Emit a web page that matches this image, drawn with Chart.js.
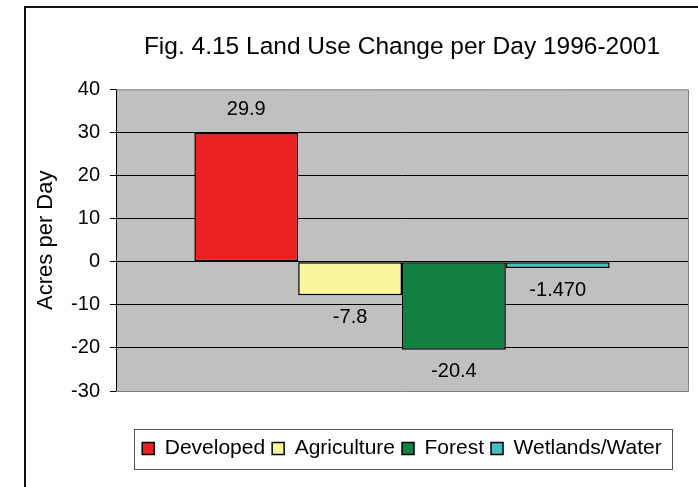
<!DOCTYPE html>
<html>
<head>
<meta charset="utf-8">
<title>Land Use Change per Day</title>
<script src="https://cdn.jsdelivr.net/npm/chart.js@4"></script>
<style>
  html, body { margin: 0; padding: 0; background: #fff; }
  #wrap { width: 698px; height: 487px; }
</style>
</head>
<body>
<div id="wrap"><canvas id="myChart" width="698" height="487"></canvas></div>
<script>
// land use categories and their change (acres per day)
var landUses = ['Developed', 'Agriculture', 'Forest', 'Wetlands/Water'];
var acresPerDay = [29.9, -7.8, -20.4, -1.470];
var labelDigits = [1, 1, 1, 3];
var barColors = ['#ED2024', '#FBF59B', '#128040', '#45BEC6'];
var yTicks = [40, 30, 20, 10, 0, -10, -20, -30];

var FONT = "'Liberation Sans', Arial, sans-serif";
Chart.defaults.font.family = FONT;
Chart.defaults.color = '#000';

// one dataset per land use so each gets its own legend entry
var datasets = [];
for (var i = 0; i < landUses.length; i++) {
    datasets.push({
        label: landUses[i],
        data: [acresPerDay[i]],
        backgroundColor: barColors[i],
        borderColor: '#000',
        borderWidth: 1.5,
        borderSkipped: false,
        categoryPercentage: 0.726,
        barPercentage: 1.0
    });
}

// white page, outer frame and grey plot area
var backdrop = {
    id: 'backdrop',
    beforeDraw: function(chart) {
        var ctx = chart.ctx, a = chart.chartArea;
        ctx.save();
        ctx.fillStyle = '#fff';
        ctx.fillRect(0, 0, chart.width, chart.height);
        ctx.fillStyle = '#111';
        ctx.fillRect(24, 6, 2, chart.height);
        ctx.fillRect(24, 6, chart.width, 2);
        ctx.fillStyle = '#C0C0C0';
        ctx.fillRect(a.left, a.top, a.right - a.left, a.bottom - a.top);
        ctx.restore();
    },
    afterDraw: function(chart) {
        var ctx = chart.ctx, a = chart.chartArea;
        ctx.save();
        ctx.strokeStyle = '#808080';
        ctx.lineWidth = 1;
        ctx.beginPath();
        ctx.moveTo(a.left, a.top + 0.5);
        ctx.lineTo(a.right + 0.5, a.top + 0.5);
        ctx.lineTo(a.right + 0.5, a.bottom + 0.5);
        ctx.lineTo(a.left, a.bottom + 0.5);
        ctx.stroke();

        // box round the legend
        var hb = chart.legend.legendHitBoxes;
        if (hb && hb.length) {
            var last = hb[hb.length - 1];
            var mid = hb[0].top + hb[0].height / 2;
            ctx.strokeStyle = '#555';
            ctx.strokeRect(Math.round(hb[0].left - 8) + 0.5, Math.round(mid - 20) + 0.5,
                Math.round(last.left + last.width - hb[0].left + 18), 40);
        }
        ctx.restore();
    }
};

// value labels above / below each bar
var valueLabels = {
    id: 'valueLabels',
    afterDatasetsDraw: function(chart) {
        var ctx = chart.ctx;
        ctx.save();
        ctx.font = '20px ' + FONT;
        ctx.fillStyle = '#000';
        ctx.textAlign = 'center';
        ctx.textBaseline = 'middle';
        chart.data.datasets.forEach(function(ds, i) {
            var bar = chart.getDatasetMeta(i).data[0];
            var v = ds.data[0];
            var y = v >= 0 ? bar.y - 23 : bar.y + 22;
            ctx.fillText(v.toFixed(labelDigits[i]), bar.x, y);
        });
        ctx.restore();
    }
};

var ctx = document.getElementById('myChart');
var myChart = new Chart(ctx, {
    type: 'bar',
    data: {
        labels: [''],
        datasets: datasets
    },
    options: {
        responsive: false,
        animation: false,
        layout: {
            padding: { left: 0, right: 10, top: 0, bottom: 18 }
        },
        plugins: {
            title: {
                display: true,
                fullSize: false,
                text: 'Fig. 4.15 Land Use Change per Day 1996-2001',
                color: '#000',
                font: { size: 24.5, weight: 'normal' },
                padding: { top: 33, bottom: 27 }
            },
            legend: {
                position: 'bottom',
                fullSize: false,
                labels: {
                    boxWidth: 12,
                    boxHeight: 12,
                    padding: 7,
                    color: '#000',
                    font: { size: 21 }
                }
            },
            tooltip: { enabled: false }
        },
        scales: {
            x: {
                display: true,
                grid: { display: false },
                border: { display: false },
                ticks: { display: false },
                afterFit: function(scale) { scale.height = 40; }
            },
            y: {
                min: -30,
                max: 40,
                z: 1,
                afterFit: function(scale) { scale.width = 116; },
                afterBuildTicks: function(scale) {
                    scale.ticks = yTicks.map(function(v) { return { value: v }; });
                },
                ticks: {
                    padding: 10,
                    color: '#000',
                    font: { size: 20 }
                },
                grid: {
                    color: function(c) {
                        return (c.tick && (c.tick.value === 40 || c.tick.value === -30)) ? 'rgba(0,0,0,0)' : '#000';
                    },
                    tickColor: '#000',
                    tickLength: 6,
                    lineWidth: 1
                },
                border: { color: '#000', width: 1 },
                title: {
                    display: true,
                    text: 'Acres per Day',
                    color: '#000',
                    font: { size: 22 },
                    padding: { top: 33, bottom: 0 }
                }
            }
        }
    },
    plugins: [backdrop, valueLabels]
});
</script>
</body>
</html>
